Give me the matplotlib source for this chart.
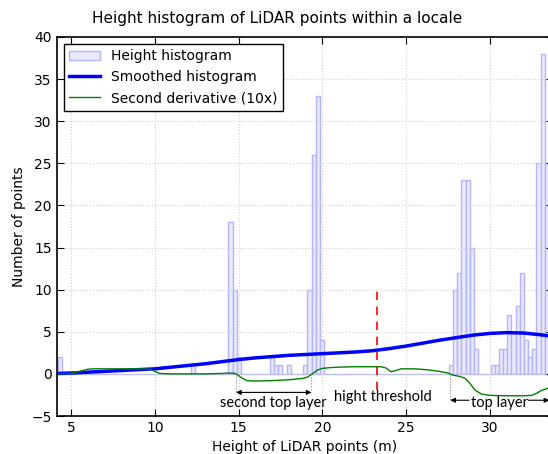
import numpy as np
import matplotlib.pyplot as plt

# histogram bins (m) and counts
bin_start = 4.2
bin_width = 0.2485
n_bins = 119
bin_index = [0, 32, 41, 42, 43, 51, 52, 53, 55, 59, 60, 61, 62, 63,
             94, 95, 96, 97, 98, 99, 100, 104, 105, 106, 107, 108, 109,
             110, 111, 112, 113, 114, 115, 116, 117]
bin_count = [2, 1, 18, 10, 2, 2, 1, 1, 1, 1, 10, 26, 33, 4,
             1, 10, 12, 23, 23, 15, 3, 1, 1, 3, 3, 7, 5,
             8, 12, 4, 2, 3, 25, 38, 25]

# smoothed histogram
smooth_x = [4.2, 5, 6, 7, 8, 9, 10, 11, 12, 13, 14, 15, 16, 17, 18, 19, 20, 21, 22,
            23, 24, 25, 26, 27, 28, 29, 30, 31, 32, 33, 33.7]
smooth_y = [0.05, 0.1, 0.2, 0.3, 0.4, 0.5, 0.6, 0.8, 1.0, 1.2, 1.45, 1.7, 1.9, 2.05,
            2.2, 2.3, 2.4, 2.5, 2.6, 2.75, 3.0, 3.3, 3.65, 4.0, 4.3, 4.6, 4.8, 4.9,
            4.85, 4.65, 4.45]

# second derivative (10x)
deriv_x = [4.2, 5.0, 5.5, 6.0, 6.3, 7, 8, 9, 9.7, 10.0, 10.3, 11, 12, 13, 14, 14.4,
           14.8, 15.0, 15.2, 15.5, 16, 17, 18, 18.8, 19.1, 19.4, 19.7, 20.0, 20.5,
           21, 22, 23, 23.5, 23.8, 24.1, 24.4, 24.7, 25.5, 26.2, 27.0, 27.5, 27.8,
           28.2, 28.5, 28.8, 29.1, 29.5, 30, 31, 32, 32.5, 32.8, 33.1, 33.7]
deriv_y = [0, 0.05, 0.3, 0.55, 0.6, 0.6, 0.6, 0.6, 0.55, 0.3, 0.05, 0.0, 0.0, 0.0,
           0.05, 0.1, 0.05, -0.2, -0.5, -0.8, -0.85, -0.8, -0.7, -0.55, -0.4, 0.0,
           0.45, 0.65, 0.75, 0.8, 0.85, 0.85, 0.85, 0.7, 0.25, 0.4, 0.6, 0.6, 0.5,
           0.3, 0.1, -0.15, -0.3, -0.5, -1.1, -1.9, -2.4, -2.55, -2.6, -2.6, -2.55,
           -2.3, -1.95, -1.55]

threshold = 23.25
second_layer = (14.85, 19.35)
top_layer = (27.64, 33.55)

counts = np.zeros(n_bins)
counts[bin_index] = bin_count
lefts = bin_start + bin_width * np.arange(n_bins)

fig = plt.figure(figsize=(5.48, 4.54), dpi=100)
ax = fig.add_axes([0.1035, 0.0837, 0.905, 0.835])

bars = ax.bar(lefts, counts, width=bin_width, align='edge', facecolor='#eaeafd',
              edgecolor='#b4b4ff', linewidth=1, label='Height histogram')
l1, = ax.plot(smooth_x, smooth_y, color='b', lw=2.5, label='Smoothed histogram')
l2, = ax.plot(deriv_x, deriv_y, color='g', lw=1, label='Second derivative (10x)')

ax.plot([threshold, threshold], [-1.9, 10], '--', color='r', lw=1.2, dashes=(5, 4))

ann_font = dict(family='Lato', fontsize=10.5)
arrow = dict(arrowstyle='-|>', color='k', lw=0.8, mutation_scale=7, shrinkA=0, shrinkB=0)
# second top layer
for xv, yv in [(second_layer[0], -0.3), (second_layer[1], -0.4)]:
    ax.plot([xv, xv], [yv, -2.2], ':', color='gray', lw=0.8)
ax.annotate('', xy=(second_layer[1], -2.2), xytext=(second_layer[0], -2.2),
            arrowprops=dict(arrow, arrowstyle='<|-|>'))
ax.text(sum(second_layer) / 2, -3.45, 'second top layer', ha='center', va='center', **ann_font)
ax.text(threshold + 0.35, -2.7, 'hight threshold', ha='center', va='center', **ann_font)
# top layer
ax.plot([top_layer[0], top_layer[0]], [-0.1, -3.13], ':', color='gray', lw=0.8)
ax.annotate('', xy=(top_layer[0], -3.13), xytext=(28.75, -3.13), arrowprops=arrow)
ax.annotate('', xy=(top_layer[1], -3.13), xytext=(32.3, -3.13), arrowprops=arrow,
            annotation_clip=False)
ax.text(30.55, -3.45, 'top layer', ha='center', va='center', **ann_font)

ax.set_xlim(4.14, 33.75)
ax.set_ylim(-5, 40)
ax.set_xticks([5, 10, 15, 20, 25, 30])
ax.set_yticks(np.arange(-5, 41, 5))
ax.tick_params(direction='in', top=True, right=True, labelsize=10, length=5)
ax.grid(True, linestyle=':', color='#d0d0d0', lw=0.8)
for s in ax.spines.values():
    s.set_linewidth(1.2)

ax.set_title('Height histogram of LiDAR points within a locale', fontsize=11, pad=10, x=0.444)
ax.set_xlabel('Height of LiDAR points (m)', fontsize=10)
ax.set_ylabel('Number of points', fontsize=10)

leg = ax.legend([bars, l1, l2], [bars.get_label(), l1.get_label(), l2.get_label()],
                loc='upper left', fontsize=10, fancybox=False, framealpha=1,
                edgecolor='k', borderaxespad=0.5, handlelength=2.2)
leg.get_frame().set_linewidth(1.0)

fig.savefig('out.png', dpi=100)
